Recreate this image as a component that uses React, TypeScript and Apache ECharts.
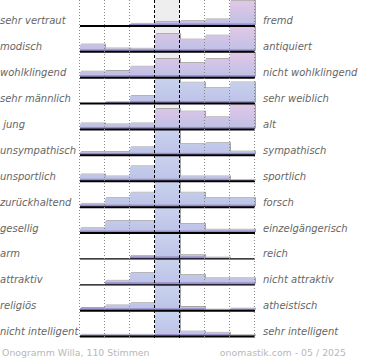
import React, { useEffect, useRef } from "react";
import * as echarts from "echarts";

const leftLabels = [
  "sehr vertraut", "modisch", "wohlklingend", "sehr männlich", " jung",
  "unsympathisch", "unsportlich", "zurückhaltend", "gesellig", "arm",
  "attraktiv", "religiös", "nicht intelligent",
];
const rightLabels = [
  "fremd", "antiquiert", "nicht wohlklingend", "sehr weiblich", "alt",
  "sympathisch", "sportlich", "forsch", "einzelgängerisch", "reich",
  "nicht attraktiv", "atheistisch", "sehr intelligent",
];

// relative bar heights (row max = 100), 7 scale steps per row
const vertraut = [0, 0, 8, 16, 19, 26, 100];
const modisch = [29, 13, 12, 71, 49, 65, 100];
const wohlklingend = [24, 27, 44, 75, 59, 75, 100];
const maennlich = [0, 5, 30, 100, 84, 62, 85];
const jung = [24, 20, 24, 82, 72, 49, 100];
const unsympathisch = [13, 13, 32, 100, 45, 49, 15];
const unsportlich = [27, 19, 60, 100, 19, 19, 4];
const zurueckhaltend = [13, 36, 58, 100, 58, 36, 36];
const gesellig = [19, 48, 48, 100, 36, 13, 13];
const arm = [0, 0, 11, 100, 15, 5, 0];
const attraktiv = [0, 16, 47, 100, 39, 26, 26];
const religioes = [11, 21, 30, 100, 15, 4, 8];
const intelligent = [7, 7, 7, 100, 20, 15, 5];

const rowValues = [
  vertraut, modisch, wohlklingend, maennlich, jung, unsympathisch, unsportlich,
  zurueckhaltend, gesellig, arm, attraktiv, religioes, intelligent,
];

const footerLeft = "Onogramm Willa, 110 Stimmen";
const footerRight = "onomastik.com - 05 / 2025";

const thinBaselineRows = [9, 10];

export default function App() {
  const ref = useRef<HTMLDivElement>(null);
  useEffect(() => {
    const chart = echarts.init(ref.current!, null, { renderer: "svg" });
    const ROWS = rowValues.length;
    const COLS = 7;
    const MID = 3;
    const FULL = 0.955;
    const barData: number[][] = [];
    rowValues.forEach((vals, r) => vals.forEach((v, c) => barData.push([c, r, v])));
    const rowPink = rowValues.map((vals) => vals.indexOf(Math.max(...vals)) !== MID);
    const rowIdx = rowValues.map((_, i) => [0, i]);
    const lineIdx = Array.from({ length: COLS + 1 }, (_, i) => [i, 0]);
    const labelFont = '"DejaVu Sans", Verdana, sans-serif';

    const option: any = {
      animation: false,
      grid: { left: 80, right: 115, top: 0, bottom: 23.4 },
      xAxis: { type: "value", min: 0, max: COLS, interval: 1, show: false },
      yAxis: { type: "value", min: 0, max: ROWS, inverse: true, show: false },
      series: [
        {
          type: "custom",
          z: 1,
          silent: true,
          data: [[MID, 0]],
          renderItem: (_p: any, api: any) => {
            const a = api.coord([MID, 0]);
            const b = api.coord([MID + 1, ROWS]);
            return {
              type: "rect",
              shape: { x: a[0], y: a[1], width: b[0] - a[0], height: b[1] - a[1] },
              style: { fill: "#eeeeee" },
            };
          },
        },
        {
          type: "custom",
          z: 2,
          silent: true,
          data: barData,
          renderItem: (_p: any, api: any) => {
            const c = api.value(0);
            const r = api.value(1);
            const v = api.value(2);
            if (v <= 0) return null;
            const p0 = api.coord([c, r + 1]);
            const p1 = api.coord([c + 1, r + 1 - (v / 100) * FULL]);
            const top = api.coord([c, r + 1 - FULL]);
            const pink = rowPink[r];
            const grad = new echarts.graphic.LinearGradient(
              0, top[1], 0, p0[1],
              pink
                ? [
                    { offset: 0, color: "#e2c7e6" },
                    { offset: 1, color: "#bcc0e6" },
                  ]
                : [
                    { offset: 0, color: "#c9d2ee" },
                    { offset: 1, color: "#bcc2e7" },
                  ],
              true
            );
            const w = p1[0] - p0[0];
            const h = p0[1] - p1[1];
            return {
              type: "group",
              children: [
                {
                  type: "rect",
                  shape: { x: p0[0], y: p1[1], width: w, height: h },
                  style: {
                    fill: grad,
                    shadowColor: "rgba(0,0,0,0.35)",
                    shadowBlur: 1.5,
                    shadowOffsetX: 1,
                    shadowOffsetY: -1,
                  },
                },
                {
                  type: "rect",
                  shape: { x: p0[0], y: p0[1] - Math.min(2.5, h), width: w, height: Math.min(2.5, h) },
                  style: { fill: "#9a8cc8" },
                },
              ],
            };
          },
        },
        {
          type: "custom",
          z: 3,
          silent: true,
          data: rowIdx,
          renderItem: (_p: any, api: any) => {
            const r = api.value(1);
            const a = api.coord([0, r + 1]);
            const b = api.coord([COLS, r + 1]);
            const thin = thinBaselineRows.indexOf(r) >= 0;
            return {
              type: "line",
              shape: { x1: a[0], y1: a[1], x2: b[0], y2: b[1] },
              style: { stroke: "#000", lineWidth: thin ? 1.2 : 2 },
            };
          },
        },
        {
          type: "custom",
          z: 4,
          silent: true,
          data: lineIdx,
          renderItem: (_p: any, api: any) => {
            const x = api.value(0);
            const a = api.coord([x, 0]);
            const b = api.coord([x, ROWS]);
            const mid = x === MID || x === MID + 1;
            const px = Math.round(a[0]) - 0.5;
            return {
              type: "line",
              shape: { x1: px, y1: a[1], x2: px, y2: b[1] + 2 },
              style: mid
                ? { stroke: "#000", lineWidth: 1, lineDash: [3, 2] }
                : { stroke: "#888", lineWidth: 1, lineDash: [1, 2] },
            };
          },
        },
        {
          type: "custom",
          z: 5,
          silent: true,
          data: rowIdx,
          renderItem: (_p: any, api: any) => {
            const r = api.value(1);
            const y = api.coord([0, r + 1])[1] - 5;
            const common = {
              fill: "#666666",
              fontSize: 10,
              fontStyle: "italic",
              fontFamily: labelFont,
              verticalAlign: "middle",
            };
            return {
              type: "group",
              children: [
                { type: "text", x: 0, y, style: { ...common, text: leftLabels[r], align: "left" } },
                { type: "text", x: 263, y, style: { ...common, text: rightLabels[r], align: "left" } },
              ],
            };
          },
        },
      ],
      graphic: [
        {
          type: "text",
          x: 2,
          y: 352.5,
          style: {
            text: footerLeft,
            fill: "#b8b8b8",
            fontSize: 9.4,
            fontFamily: labelFont,
            verticalAlign: "middle",
            align: "left",
          },
        },
        {
          type: "text",
          x: 346,
          y: 352.5,
          style: {
            text: footerRight,
            fill: "#b8b8b8",
            fontSize: 9.4,
            fontFamily: labelFont,
            verticalAlign: "middle",
            align: "right",
          },
        },
      ],
    };
    chart.setOption(option);
    return () => chart.dispose();
  }, []);
  return (
    <div
      ref={ref}
      style={{ position: "fixed", left: 0, top: 0, width: 370, height: 360, background: "#fff" }}
    />
  );
}
